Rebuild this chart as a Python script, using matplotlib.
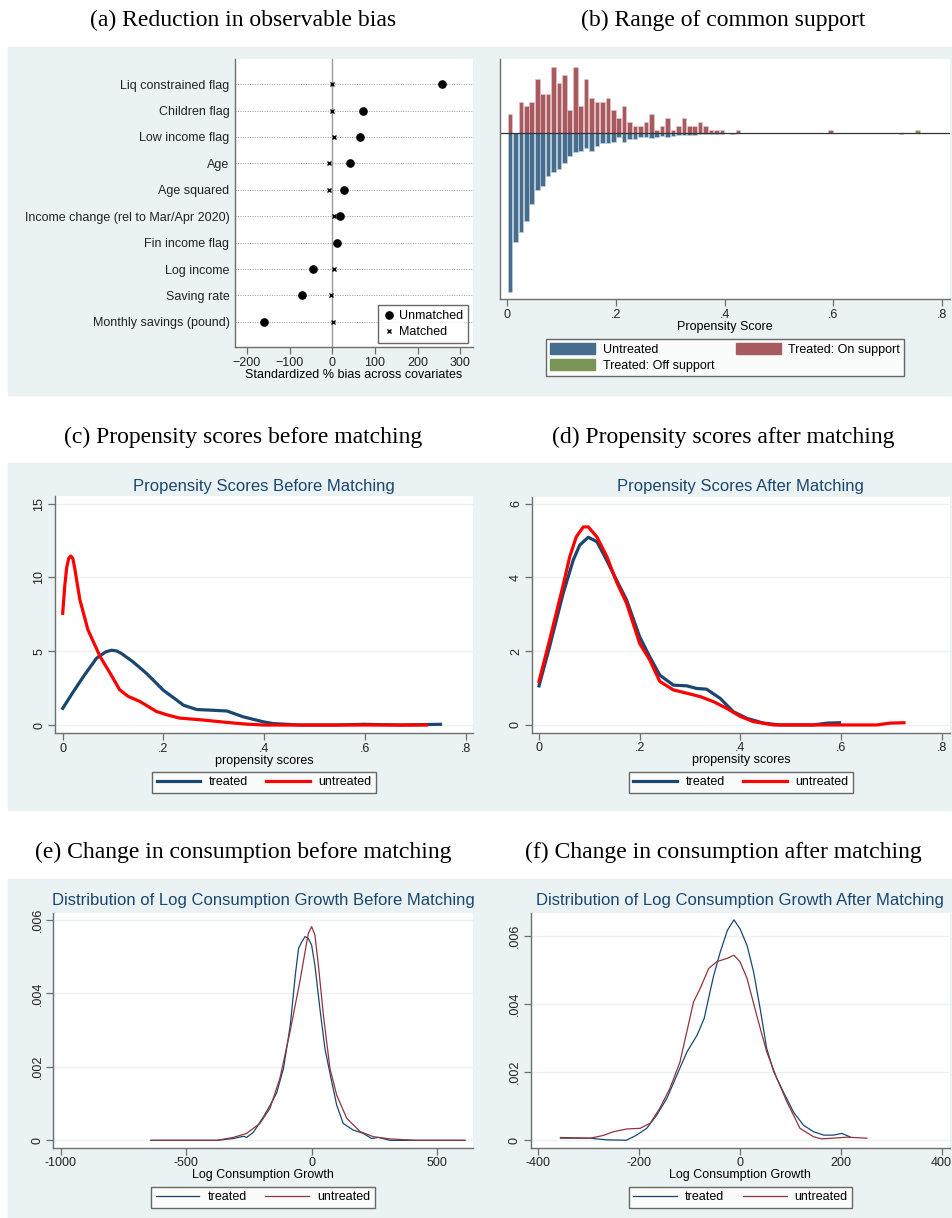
import numpy as np
import matplotlib.pyplot as plt
from matplotlib.patches import Rectangle, Patch

# ---- data ----
# (a) standardized % bias
covariates = ["Liq constrained flag", "Children flag", "Low income flag", "Age", "Age squared",
              "Income change (rel to Mar/Apr 2020)", "Fin income flag", "Log income",
              "Saving rate", "Monthly savings (pound)"]
bias_unmatched = [257, 72, 66, 42, 27, 19, 12, -44, -71, -161]
bias_matched = [0, -1, 5, -7, -8, 5, 10, 5, -3, 1]

# (b) propensity score histogram, bins of width .01
ps_bins = np.round(np.arange(0.005, 0.43, 0.01), 3)
treated_on = [5, 0, 8, 7, 8, 14, 10, 10, 17, 13, 15, 6, 17, 7, 14, 9, 8, 8, 9, 6, 4, 7, 3, 2, 2,
              3, 5, 1, 2, 4, 1, 2, 4, 2, 2, 3, 2, 1, 1, 1, 0, 0, 1]
untreated_hist = [40.8, 27.9, 25.4, 22.6, 18.0, 14.5, 13.5, 11.0, 9.8, 9.1, 7.6, 5.9, 4.7, 4.4,
                  3.7, 4.4, 3.2, 2.5, 2.5, 2.3, 1.0, 2.1, 1.4, 1.4, 0.9, 0.9, 1.1, 0.85, 0.6,
                  0.85, 0.6, 0.4, 0.5, 0.35, 0.35, 0.25, 0.25, 0.2, 0.2, 0.1, 0.0, 0.1, 0.0]
extra_on_bin, extra_on = [0.595], [1]
extra_untr_bin, extra_untr = [0.725], [0.1]
off_bin, off_support = [0.755], [1]

# (c) propensity scores before matching (kernel densities)
c_tr_x = [0.0, 0.02, 0.041, 0.067, 0.085, 0.097, 0.107, 0.117, 0.14, 0.167, 0.2, 0.22, 0.24,
          0.266, 0.299, 0.326, 0.358, 0.398, 0.418, 0.47, 0.54, 0.597, 0.67, 0.75]
c_tr_y = [1.13, 2.2, 3.28, 4.52, 4.95, 5.07, 5.02, 4.84, 4.27, 3.48, 2.35, 1.85, 1.34,
          1.05, 1.0, 0.95, 0.56, 0.22, 0.1, 0.0, 0.0, 0.05, 0.0, 0.05]
c_un_x = [0.0, 0.004, 0.008, 0.012, 0.016, 0.02, 0.024, 0.034, 0.05, 0.074, 0.094, 0.113, 0.13,
          0.153, 0.186, 0.206, 0.232, 0.272, 0.325, 0.365, 0.4, 0.55, 0.722]
c_un_y = [7.57, 9.4, 10.7, 11.3, 11.45, 11.3, 10.6, 8.5, 6.46, 4.65, 3.52, 2.39, 1.94,
          1.6, 0.92, 0.7, 0.47, 0.36, 0.18, 0.06, 0.0, 0.0, 0.0]

# (d) propensity scores after matching
d_tr_x = [0.0, 0.021, 0.048, 0.068, 0.081, 0.098, 0.115, 0.131, 0.154, 0.174, 0.2, 0.22, 0.24,
          0.267, 0.294, 0.313, 0.333, 0.36, 0.386, 0.413, 0.446, 0.479, 0.545, 0.572, 0.597]
d_tr_y = [1.06, 2.12, 3.57, 4.47, 4.88, 5.09, 4.97, 4.56, 3.93, 3.39, 2.39, 1.85, 1.35,
          1.08, 1.06, 0.99, 0.97, 0.72, 0.36, 0.18, 0.05, 0.0, 0.0, 0.05, 0.06]
d_un_x = [0.0, 0.021, 0.048, 0.061, 0.074, 0.088, 0.098, 0.115, 0.135, 0.154, 0.174, 0.2, 0.22,
          0.24, 0.267, 0.294, 0.32, 0.347, 0.373, 0.4, 0.426, 0.466, 0.545, 0.671, 0.697, 0.725]
d_un_y = [1.18, 2.3, 3.79, 4.56, 5.1, 5.37, 5.37, 5.1, 4.56, 3.88, 3.3, 2.21, 1.76,
          1.18, 0.95, 0.86, 0.77, 0.63, 0.45, 0.23, 0.09, 0.0, 0.0, 0.0, 0.05, 0.06]

# (e) log consumption growth before matching
e_tr_x = [-640, -378, -312, -272, -259, -232, -192, -165, -139, -112, -85, -65, -52, -39, -26,
          -13, 0, 13, 33, 53, 80, 100, 126, 166, 206, 239, 266, 312, 485, 611]
e_tr_y = [0, 0, 0.00005, 0.00011, 0.00008, 0.00022, 0.00064, 0.00096, 0.0013, 0.00196, 0.00314,
          0.0045, 0.00523, 0.00541, 0.00555, 0.0055, 0.00532, 0.00477, 0.00359, 0.0025, 0.0016,
          0.00096, 0.00046, 0.00028, 0.00019, 0.00005, 0.00008, 0.0, 0.0, 0.0]
e_un_x = [-640, -378, -312, -259, -206, -166, -126, -86, -47, -26, -13, 0, 13, 27, 47, 73, 100,
          140, 193, 246, 312, 419, 611]
e_un_y = [0, 0, 0.00008, 0.00019, 0.00046, 0.00087, 0.0017, 0.00296, 0.00432, 0.00514, 0.00564,
          0.00582, 0.0056, 0.00477, 0.00341, 0.00196, 0.00123, 0.0006, 0.00024, 0.0001, 0.00004,
          0.0, 0.0]

# (f) log consumption growth after matching
f_tr_x = [-356, -297, -264, -225, -205, -185, -165, -145, -125, -105, -85, -71, -58, -52, -39,
          -25, -12, 0, 14, 27, 40, 53, 67, 86, 106, 126, 146, 166, 185, 202, 218]
f_tr_y = [0.00006, 0.00006, 0.00001, 0.0, 0.00015, 0.00035, 0.00074, 0.00123, 0.00192, 0.0026,
          0.00309, 0.00358, 0.00446, 0.00485, 0.00554, 0.00617, 0.00648, 0.00622, 0.00573,
          0.00495, 0.00387, 0.0027, 0.00201, 0.00142, 0.00083, 0.00044, 0.00025, 0.00015,
          0.00015, 0.0002, 0.0001]
f_un_x = [-356, -297, -271, -251, -225, -198, -178, -159, -139, -119, -92, -79, -62, -46, -25,
          -12, 0, 14, 33, 53, 73, 93, 119, 146, 162, 185, 212, 252]
f_un_y = [0.00008, 0.00006, 0.00014, 0.00025, 0.00033, 0.00035, 0.0005, 0.00094, 0.00152, 0.0023,
          0.00407, 0.00446, 0.00505, 0.00525, 0.00535, 0.00544, 0.00525, 0.00476, 0.00368,
          0.0026, 0.00182, 0.00113, 0.00035, 0.0001, 0.00004, 0.00006, 0.00009, 0.00006]

# ---- style ----
W, H = 952, 1218
BG = "#eaf2f3"
NAVY = "#1a476f"
AXC = "#6e6e6e"
SANS = "Liberation Sans"
SERIF = "Liberation Serif"
plt.rcParams["font.family"] = SANS
plt.rcParams["font.size"] = 9

fig = plt.figure(figsize=(W / 100, H / 100), dpi=100)


def px_axes(x0, y0, x1, y1):
    return fig.add_axes([x0 / W, 1 - y1 / H, (x1 - x0) / W, (y1 - y0) / H])


def band(y0, y1, x0=8, x1=952):
    fig.patches.append(Rectangle((x0 / W, 1 - y1 / H), (x1 - x0) / W, (y1 - y0) / H,
                                 transform=fig.transFigure, color=BG, zorder=-10))


def stata_axes(ax):
    for s in ["top", "right"]:
        ax.spines[s].set_visible(False)
    for s in ["left", "bottom"]:
        ax.spines[s].set_color(AXC)
        ax.spines[s].set_linewidth(1.0)
    ax.tick_params(colors=AXC, labelcolor="#222222", length=5, width=0.9, pad=2)


def panel_title(text, x, y):
    fig.text(x / W, 1 - y / H, text, ha="center", va="center", fontsize=17, family=SERIF)


def inner_title(text, x, y):
    fig.text(x / W, 1 - y / H, text, ha="center", va="center", fontsize=12, color=NAVY)


band(47, 395)
band(463, 810)
band(879, 1218)

panel_title("(a) Reduction in observable bias", 243, 20)
panel_title("(b) Range of common support", 723, 20)
panel_title("(c) Propensity scores before matching", 243, 437)
panel_title("(d) Propensity scores after matching", 723, 437)
panel_title("(e) Change in consumption before matching", 243, 852)
panel_title("(f) Change in consumption after matching", 723, 852)

# ---- (a) ----
ax = px_axes(235, 59, 473, 347)
stata_axes(ax)
ypos = np.arange(len(covariates))[::-1]
for y in ypos:
    ax.axhline(y, color="#9a9a9a", lw=0.7, ls=(0, (1, 1.5)), zorder=1)
ax.axvline(0, color="#9a9a9a", lw=1.0, zorder=1)
ax.plot(bias_unmatched, ypos, "o", color="black", ms=5.2, ls="none", zorder=3, label="Unmatched")
ax.plot(bias_matched, ypos, "x", color="black", ms=3.5, mew=1.0, ls="none", zorder=3, label="Matched")
ax.set_xlim(-228, 330)
ax.set_ylim(-0.95, 9.95)
ax.set_yticks(ypos)
ax.set_yticklabels(covariates)
ax.tick_params(axis="y", length=0, pad=4)
ax.set_xticks([-200, -100, 0, 100, 200, 300])
ax.set_xlabel("Standardized % bias across covariates", labelpad=0)
leg = ax.legend(loc="lower right", bbox_to_anchor=(0.979, 0.014), frameon=True, fancybox=False,
                edgecolor="#444444", handletextpad=0.3, borderpad=0.4, labelspacing=0.3,
                handlelength=1.0, borderaxespad=0, fontsize=9)
leg.get_frame().set_linewidth(1.0)

# ---- (b) ----
ax = px_axes(500, 59, 950, 299)
stata_axes(ax)
RED_B, BLUE_B, GREEN_B = "#a85a60", "#466d8e", "#7a9457"
ax.bar(ps_bins, treated_on, width=0.0085, color=RED_B, edgecolor="#e6c9cb", lw=0.4)
ax.bar(extra_on_bin, extra_on, width=0.0085, color=RED_B, edgecolor="#e6c9cb", lw=0.4)
ax.bar(ps_bins, [-v for v in untreated_hist], width=0.0085, color=BLUE_B, edgecolor="#c4d2de", lw=0.4)
ax.bar(extra_untr_bin, [-v for v in extra_untr], width=0.0085, color=BLUE_B, edgecolor="#c4d2de", lw=0.4)
ax.bar(off_bin, off_support, width=0.0085, color=GREEN_B, edgecolor="#d3ddc8", lw=0.4)
ax.axhline(0, color="#333333", lw=0.9)
ax.set_xlim(-0.0135, 0.815)
ax.set_ylim(-42.5, 19.1)
ax.set_yticks([])
ax.set_xticks([0, 0.2, 0.4, 0.6, 0.8])
ax.set_xticklabels(["0", ".2", ".4", ".6", ".8"])
ax.set_xlabel("Propensity Score", labelpad=0)
handles = [Patch(color=BLUE_B), Patch(color=GREEN_B), Patch(color=RED_B)]
labels = ["Untreated", "Treated: Off support", "Treated: On support"]
leg = ax.legend(handles, labels, loc="upper center", bbox_to_anchor=(0.5, -0.167), ncol=2,
                frameon=True, fancybox=False, edgecolor="#444444", handlelength=3.6,
                handleheight=0.95, columnspacing=1.7, handletextpad=0.6, borderpad=0.3,
                labelspacing=0.3, borderaxespad=0, fontsize=9)
leg.get_frame().set_linewidth(1.0)


def density_panel(box, xlim, ylim, xticks, xticklabels, yticks, yticklabels, xlabel,
                  tr, un, lw, un_color, legend_top):
    ax = px_axes(*box)
    stata_axes(ax)
    for y in yticks:
        ax.axhline(y, color=BG, lw=1.0, zorder=0)
    ax.plot(tr[0], tr[1], color=NAVY, lw=lw, label="treated", solid_joinstyle="round")
    ax.plot(un[0], un[1], color=un_color, lw=lw, label="untreated", solid_joinstyle="round")
    ax.set_xlim(*xlim)
    ax.set_ylim(*ylim)
    ax.set_xticks(xticks)
    ax.set_xticklabels(xticklabels)
    ax.set_yticks(yticks)
    ax.set_yticklabels(yticklabels, rotation=90, va="center")
    ax.set_xlabel(xlabel, labelpad=0)
    h = box[3] - box[1]
    leg = ax.legend(loc="upper center", bbox_to_anchor=(0.5, -(legend_top - box[3]) / h), ncol=2,
                    frameon=True, fancybox=False, edgecolor="#444444", handlelength=3.5,
                    columnspacing=1.5, handletextpad=0.65, borderpad=0.35, borderaxespad=0,
                    fontsize=9)
    leg.get_frame().set_linewidth(1.0)
    return ax


ps_ticks = [0, 0.2, 0.4, 0.6, 0.8]
ps_labels = ["0", ".2", ".4", ".6", ".8"]

inner_title("Propensity Scores Before Matching", 264, 486)
density_panel((55, 496, 473, 733), (-0.0153, 0.8145), (-0.54, 15.52), ps_ticks, ps_labels,
              [0, 5, 10, 15], ["0", "5", "10", "15"], "propensity scores",
              (c_tr_x, c_tr_y), (c_un_x, c_un_y), 2.3, "#ff0000", 772)

inner_title("Propensity Scores After Matching", 740, 486)
density_panel((531.7, 496.7, 950, 732.7), (-0.0145, 0.8165), (-0.21, 6.19), ps_ticks, ps_labels,
              [0, 2, 4, 6], ["0", "2", "4", "6"], "propensity scores",
              (d_tr_x, d_tr_y), (d_un_x, d_un_y), 2.3, "#ff0000", 772)

inner_title("Distribution of Log Consumption Growth Before Matching", 263, 901)
density_panel((53.3, 912.7, 472.7, 1147.7), (-1029.5, 642), (-0.0002, 0.0062),
              [-1000, -500, 0, 500], ["-1000", "-500", "0", "500"],
              [0, 0.002, 0.004, 0.006], ["0", ".002", ".004", ".006"], "Log Consumption Growth",
              (e_tr_x, e_tr_y), (e_un_x, e_un_y), 0.9, "#90353b", 1187)

inner_title("Distribution of Log Consumption Growth After Matching", 740, 901)
density_panel((530.7, 912.7, 950, 1147.7), (-415, 416.5), (-0.00022, 0.00669),
              [-400, -200, 0, 200, 400], ["-400", "-200", "0", "200", "400"],
              [0, 0.002, 0.004, 0.006], ["0", ".002", ".004", ".006"], "Log Consumption Growth",
              (f_tr_x, f_tr_y), (f_un_x, f_un_y), 0.9, "#90353b", 1187)

fig.savefig("out.png", dpi=100)
